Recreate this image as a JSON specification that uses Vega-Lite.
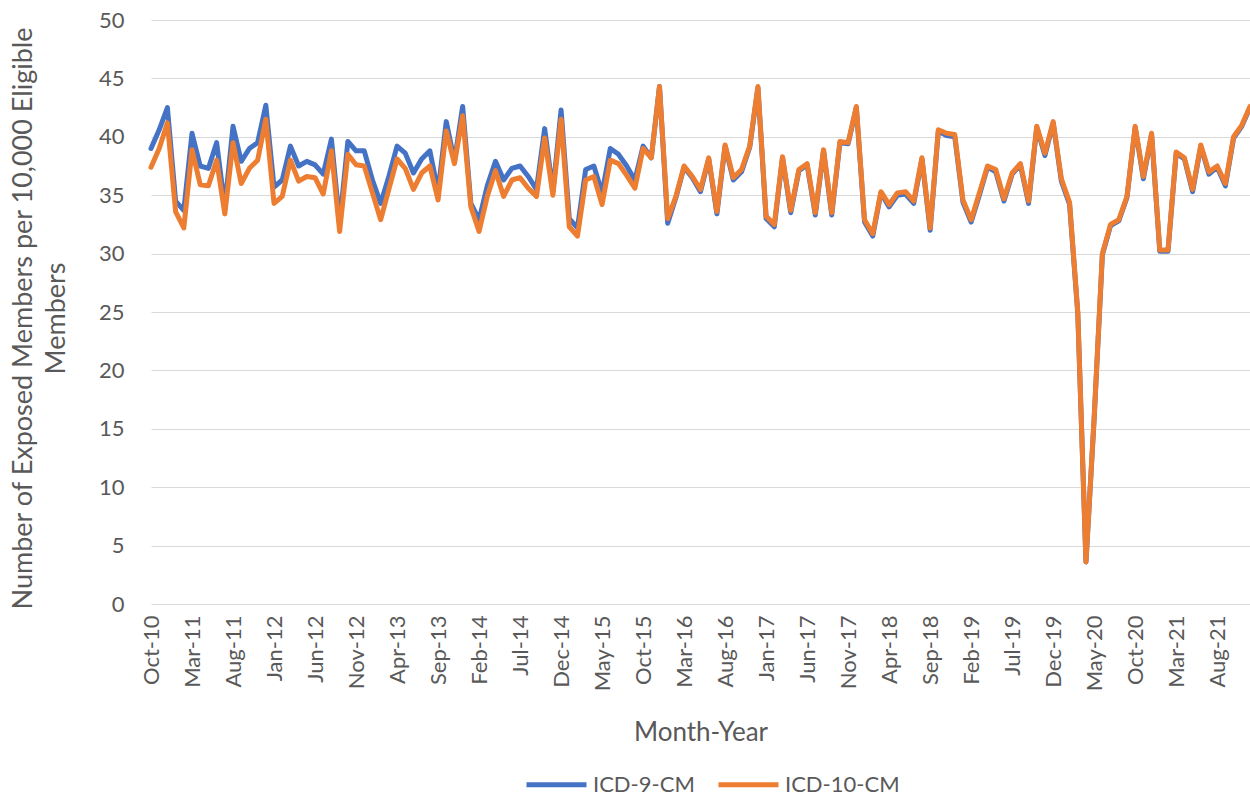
{
  "$schema": "https://vega.github.io/schema/vega-lite/v6.json",
  "width": 1103,
  "height": 584,
  "autosize": {"type": "none"},
  "padding": {"left": 147, "top": 20, "right": 0, "bottom": 196},
  "background": "white",
  "config": {"view": {"stroke": null}, "font": "Lato"},
  "data": {"values": [
    {"m":"Oct-10","ICD9":39.0,"ICD10":37.4},{"m":"Nov-10","ICD9":40.6,"ICD10":39.0},{"m":"Dec-10","ICD9":42.5,"ICD10":41.2},
    {"m":"Jan-11","ICD9":34.5,"ICD10":33.6},{"m":"Feb-11","ICD9":33.7,"ICD10":32.2},{"m":"Mar-11","ICD9":40.3,"ICD10":38.9},
    {"m":"Apr-11","ICD9":37.5,"ICD10":35.9},{"m":"May-11","ICD9":37.3,"ICD10":35.8},{"m":"Jun-11","ICD9":39.5,"ICD10":38.0},
    {"m":"Jul-11","ICD9":34.0,"ICD10":33.4},{"m":"Aug-11","ICD9":40.9,"ICD10":39.5},{"m":"Sep-11","ICD9":37.9,"ICD10":36.0},
    {"m":"Oct-11","ICD9":39.0,"ICD10":37.3},{"m":"Nov-11","ICD9":39.5,"ICD10":38.0},{"m":"Dec-11","ICD9":42.7,"ICD10":41.5},
    {"m":"Jan-12","ICD9":35.7,"ICD10":34.3},{"m":"Feb-12","ICD9":36.3,"ICD10":34.9},{"m":"Mar-12","ICD9":39.2,"ICD10":38.0},
    {"m":"Apr-12","ICD9":37.5,"ICD10":36.2},{"m":"May-12","ICD9":37.9,"ICD10":36.6},{"m":"Jun-12","ICD9":37.6,"ICD10":36.5},
    {"m":"Jul-12","ICD9":36.8,"ICD10":35.1},{"m":"Aug-12","ICD9":39.8,"ICD10":38.8},{"m":"Sep-12","ICD9":32.6,"ICD10":31.9},
    {"m":"Oct-12","ICD9":39.6,"ICD10":38.5},{"m":"Nov-12","ICD9":38.8,"ICD10":37.6},{"m":"Dec-12","ICD9":38.8,"ICD10":37.5},
    {"m":"Jan-13","ICD9":36.3,"ICD10":35.2},{"m":"Feb-13","ICD9":34.3,"ICD10":32.9},{"m":"Mar-13","ICD9":36.6,"ICD10":35.5},
    {"m":"Apr-13","ICD9":39.2,"ICD10":38.1},{"m":"May-13","ICD9":38.6,"ICD10":37.3},{"m":"Jun-13","ICD9":36.9,"ICD10":35.5},
    {"m":"Jul-13","ICD9":38.1,"ICD10":36.9},{"m":"Aug-13","ICD9":38.8,"ICD10":37.5},{"m":"Sep-13","ICD9":35.3,"ICD10":34.6},
    {"m":"Oct-13","ICD9":41.3,"ICD10":40.5},{"m":"Nov-13","ICD9":37.9,"ICD10":37.7},{"m":"Dec-13","ICD9":42.6,"ICD10":41.8},
    {"m":"Jan-14","ICD9":34.3,"ICD10":34.0},{"m":"Feb-14","ICD9":32.9,"ICD10":31.9},{"m":"Mar-14","ICD9":35.8,"ICD10":34.9},
    {"m":"Apr-14","ICD9":37.9,"ICD10":37.1},{"m":"May-14","ICD9":36.3,"ICD10":34.9},{"m":"Jun-14","ICD9":37.3,"ICD10":36.3},
    {"m":"Jul-14","ICD9":37.5,"ICD10":36.5},{"m":"Aug-14","ICD9":36.6,"ICD10":35.6},{"m":"Sep-14","ICD9":35.5,"ICD10":34.9},
    {"m":"Oct-14","ICD9":40.7,"ICD10":39.9},{"m":"Nov-14","ICD9":35.3,"ICD10":35.0},{"m":"Dec-14","ICD9":42.3,"ICD10":41.5},
    {"m":"Jan-15","ICD9":33.0,"ICD10":32.3},{"m":"Feb-15","ICD9":32.2,"ICD10":31.5},{"m":"Mar-15","ICD9":37.2,"ICD10":36.3},
    {"m":"Apr-15","ICD9":37.5,"ICD10":36.6},{"m":"May-15","ICD9":35.2,"ICD10":34.2},{"m":"Jun-15","ICD9":39.0,"ICD10":38.0},
    {"m":"Jul-15","ICD9":38.5,"ICD10":37.7},{"m":"Aug-15","ICD9":37.5,"ICD10":36.7},{"m":"Sep-15","ICD9":36.3,"ICD10":35.6},
    {"m":"Oct-15","ICD9":39.2,"ICD10":39.0},{"m":"Nov-15","ICD9":38.2,"ICD10":38.2},{"m":"Dec-15","ICD9":44.3,"ICD10":44.3},
    {"m":"Jan-16","ICD9":32.6,"ICD10":33.0},{"m":"Feb-16","ICD9":34.8,"ICD10":34.9},{"m":"Mar-16","ICD9":37.4,"ICD10":37.5},
    {"m":"Apr-16","ICD9":36.5,"ICD10":36.6},{"m":"May-16","ICD9":35.3,"ICD10":35.5},{"m":"Jun-16","ICD9":38.1,"ICD10":38.2},
    {"m":"Jul-16","ICD9":33.4,"ICD10":33.6},{"m":"Aug-16","ICD9":39.2,"ICD10":39.3},{"m":"Sep-16","ICD9":36.3,"ICD10":36.5},
    {"m":"Oct-16","ICD9":37.0,"ICD10":37.2},{"m":"Nov-16","ICD9":39.1,"ICD10":39.2},{"m":"Dec-16","ICD9":44.2,"ICD10":44.3},
    {"m":"Jan-17","ICD9":33.0,"ICD10":33.2},{"m":"Feb-17","ICD9":32.3,"ICD10":32.5},{"m":"Mar-17","ICD9":38.2,"ICD10":38.3},
    {"m":"Apr-17","ICD9":33.5,"ICD10":33.7},{"m":"May-17","ICD9":37.1,"ICD10":37.2},{"m":"Jun-17","ICD9":37.6,"ICD10":37.7},
    {"m":"Jul-17","ICD9":33.3,"ICD10":33.5},{"m":"Aug-17","ICD9":38.8,"ICD10":38.9},{"m":"Sep-17","ICD9":33.3,"ICD10":33.5},
    {"m":"Oct-17","ICD9":39.5,"ICD10":39.6},{"m":"Nov-17","ICD9":39.4,"ICD10":39.5},{"m":"Dec-17","ICD9":42.5,"ICD10":42.6},
    {"m":"Jan-18","ICD9":32.7,"ICD10":32.9},{"m":"Feb-18","ICD9":31.5,"ICD10":31.7},{"m":"Mar-18","ICD9":35.2,"ICD10":35.3},
    {"m":"Apr-18","ICD9":34.0,"ICD10":34.2},{"m":"May-18","ICD9":35.0,"ICD10":35.2},{"m":"Jun-18","ICD9":35.1,"ICD10":35.3},
    {"m":"Jul-18","ICD9":34.3,"ICD10":34.5},{"m":"Aug-18","ICD9":38.1,"ICD10":38.2},{"m":"Sep-18","ICD9":32.0,"ICD10":32.2},
    {"m":"Oct-18","ICD9":40.5,"ICD10":40.6},{"m":"Nov-18","ICD9":40.1,"ICD10":40.3},{"m":"Dec-18","ICD9":40.0,"ICD10":40.2},
    {"m":"Jan-19","ICD9":34.4,"ICD10":34.6},{"m":"Feb-19","ICD9":32.7,"ICD10":32.9},{"m":"Mar-19","ICD9":35.0,"ICD10":35.2},
    {"m":"Apr-19","ICD9":37.4,"ICD10":37.5},{"m":"May-19","ICD9":37.0,"ICD10":37.2},{"m":"Jun-19","ICD9":34.5,"ICD10":34.7},
    {"m":"Jul-19","ICD9":36.8,"ICD10":36.9},{"m":"Aug-19","ICD9":37.6,"ICD10":37.7},{"m":"Sep-19","ICD9":34.3,"ICD10":34.5},
    {"m":"Oct-19","ICD9":40.8,"ICD10":40.9},{"m":"Nov-19","ICD9":38.4,"ICD10":38.6},{"m":"Dec-19","ICD9":41.2,"ICD10":41.3},
    {"m":"Jan-20","ICD9":36.2,"ICD10":36.4},{"m":"Feb-20","ICD9":34.2,"ICD10":34.4},{"m":"Mar-20","ICD9":24.9,"ICD10":25.0},
    {"m":"Apr-20","ICD9":3.6,"ICD10":3.6},{"m":"May-20","ICD9":15.9,"ICD10":16.0},{"m":"Jun-20","ICD9":29.9,"ICD10":30.0},
    {"m":"Jul-20","ICD9":32.4,"ICD10":32.5},{"m":"Aug-20","ICD9":32.8,"ICD10":32.9},{"m":"Sep-20","ICD9":34.8,"ICD10":34.9},
    {"m":"Oct-20","ICD9":40.8,"ICD10":40.9},{"m":"Nov-20","ICD9":36.4,"ICD10":36.6},{"m":"Dec-20","ICD9":40.2,"ICD10":40.3},
    {"m":"Jan-21","ICD9":30.2,"ICD10":30.3},{"m":"Feb-21","ICD9":30.2,"ICD10":30.3},{"m":"Mar-21","ICD9":38.6,"ICD10":38.7},
    {"m":"Apr-21","ICD9":38.1,"ICD10":38.2},{"m":"May-21","ICD9":35.3,"ICD10":35.5},{"m":"Jun-21","ICD9":39.2,"ICD10":39.3},
    {"m":"Jul-21","ICD9":36.8,"ICD10":37.0},{"m":"Aug-21","ICD9":37.4,"ICD10":37.5},{"m":"Sep-21","ICD9":35.8,"ICD10":36.0},
    {"m":"Oct-21","ICD9":39.9,"ICD10":40.0},{"m":"Nov-21","ICD9":40.9,"ICD10":41.0},{"m":"Dec-21","ICD9":42.5,"ICD10":42.6}
  ]},
  "encoding": {
    "x": {
      "field": "m",
      "type": "ordinal",
      "sort": null,
      "scale": {"type": "point", "padding": 0, "range": [4, 1103]},
      "axis": {
        "values": ["Oct-10","Mar-11","Aug-11","Jan-12","Jun-12","Nov-12","Apr-13","Sep-13","Feb-14","Jul-14","Dec-14","May-15","Oct-15","Mar-16","Aug-16","Jan-17","Jun-17","Nov-17","Apr-18","Sep-18","Feb-19","Jul-19","Dec-19","May-20","Oct-20","Mar-21","Aug-21"],
        "labelAngle": 270,
        "labelFont": "Lato",
        "labelFontSize": 22,
        "labelColor": "#595959",
        "labelPadding": 11,
        "labelOverlap": false,
        "ticks": false,
        "tickSize": 0,
        "domain": false,
        "grid": false,
        "title": "Month-Year",
        "titleFont": "Lato",
        "titleFontSize": 26,
        "titleFontWeight": "normal",
        "titleColor": "#595959",
        "titleBaseline": "top",
        "titleY": 115
      }
    }
  },
  "layer": [
    {
      "mark": {"type": "line", "strokeWidth": 5, "strokeJoin": "round", "strokeCap": "round"},
      "encoding": {
        "y": {
          "field": "ICD9",
          "type": "quantitative",
          "scale": {"domain": [0, 50], "nice": false},
          "axis": {
            "values": [0,5,10,15,20,25,30,35,40,45,50],
            "grid": true,
            "gridColor": "#d9d9d9",
            "gridWidth": 1,
            "domain": false,
            "ticks": false,
            "tickSize": 0,
            "labelPadding": 23,
            "labelFont": "Lato",
            "labelFontSize": 22,
            "labelColor": "#595959",
            "title": ["Number of Exposed Members per 10,000 Eligible", "Members"],
            "titleFont": "Lato",
            "titleFontSize": 27,
            "titleFontWeight": "normal",
            "titleColor": "#595959",
            "titleAngle": 270,
            "titleAlign": "center",
            "titleBaseline": "top",
            "titleLineHeight": 33,
            "titleX": -137,
            "titleY": 298
          }
        },
        "color": {
          "datum": "ICD-9-CM",
          "type": "nominal",
          "scale": {"domain": ["ICD-9-CM", "ICD-10-CM"], "range": ["#4472C4", "#ED7D31"]},
          "legend": {
            "orient": "none",
            "legendX": 397,
            "legendY": 752,
            "direction": "horizontal",
            "title": null,
            "symbolType": "M-3,0H3",
            "symbolSize": 400,
            "symbolStrokeWidth": 5,
            "labelFont": "Lato",
            "labelFontSize": 22,
            "labelColor": "#595959",
            "labelOffset": 24,
            "columnPadding": 13,
            "padding": 0
          }
        }
      }
    },
    {
      "mark": {"type": "line", "strokeWidth": 5, "strokeJoin": "round", "strokeCap": "round"},
      "encoding": {
        "y": {
          "field": "ICD10",
          "type": "quantitative",
          "scale": {"domain": [0, 50], "nice": false},
          "axis": {
            "values": [0,5,10,15,20,25,30,35,40,45,50],
            "grid": true,
            "gridColor": "#d9d9d9",
            "gridWidth": 1,
            "domain": false,
            "ticks": false,
            "tickSize": 0,
            "labelPadding": 23,
            "labelFont": "Lato",
            "labelFontSize": 22,
            "labelColor": "#595959",
            "title": ["Number of Exposed Members per 10,000 Eligible", "Members"],
            "titleFont": "Lato",
            "titleFontSize": 27,
            "titleFontWeight": "normal",
            "titleColor": "#595959",
            "titleAngle": 270,
            "titleAlign": "center",
            "titleBaseline": "top",
            "titleLineHeight": 33,
            "titleX": -137,
            "titleY": 298
          }
        },
        "color": {"datum": "ICD-10-CM", "type": "nominal"}
      }
    }
  ]
}
